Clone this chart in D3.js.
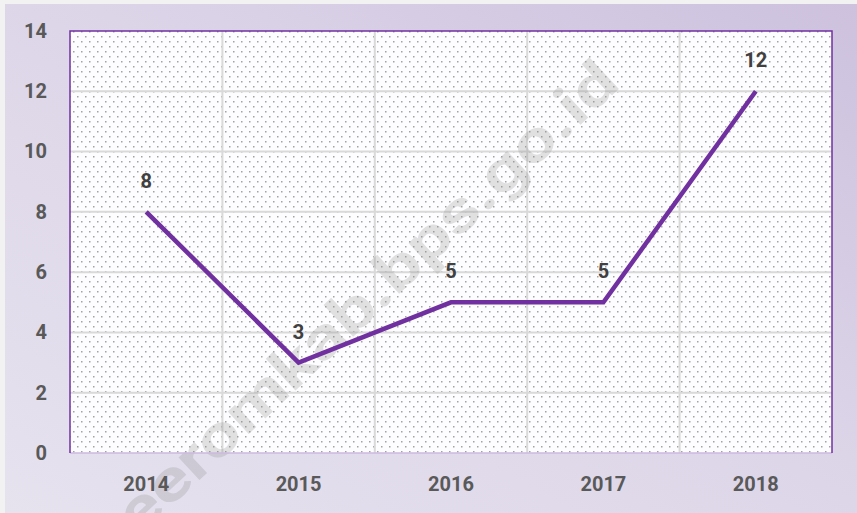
<!DOCTYPE html>
<html>
<head>
<meta charset="utf-8">
<script src="https://d3js.org/d3.v7.min.js"></script>
<style>
body { margin: 0; background: #fff; }
text { font-family: Roboto, "Liberation Sans", sans-serif; font-weight: bold; }
</style>
</head>
<body>
<svg width="857" height="513"></svg>
<script>
// data
const years = ["2014", "2015", "2016", "2017", "2018"]
const values = [8, 3, 5, 5, 12]
const yTicks = [0, 2, 4, 6, 8, 10, 12, 14]

const svg = d3.select("svg")
const defs = svg.append("defs")

// panel background gradient
const grad = defs.append("linearGradient")
    .attr("id", "bg")
    .attr("x1", "0%").attr("y1", "100%")
    .attr("x2", "100%").attr("y2", "0%")
grad.append("stop").attr("offset", "0%").attr("stop-color", "#e6e2ee")
grad.append("stop").attr("offset", "55%").attr("stop-color", "#dcd5e8")
grad.append("stop").attr("offset", "100%").attr("stop-color", "#cdc1de")

// dotted fill for the plot area
const pat = defs.append("pattern")
    .attr("id", "dots")
    .attr("patternUnits", "userSpaceOnUse")
    .attr("width", 8).attr("height", 10)
pat.append("rect").attr("width", 8).attr("height", 10).attr("fill", "#fdfcfe")
pat.append("rect").attr("x", 1).attr("y", 1).attr("width", 1.5).attr("height", 1.5).attr("fill", "#a3a3a3")
pat.append("rect").attr("x", 5).attr("y", 6).attr("width", 1.5).attr("height", 1.5).attr("fill", "#a3a3a3")

svg.append("rect").attr("width", 857).attr("height", 513).attr("fill", "#f2f2f2")
svg.append("rect")
    .attr("x", 5).attr("y", 4)
    .attr("width", 852).attr("height", 509)
    .attr("fill", "url(#bg)")

const plotL = 70, plotR = 832, plotT = 31, plotB = 453

const x = d3.scaleBand().domain(years).range([plotL, plotR])
const y = d3.scaleLinear().domain([0, 14]).range([plotB, plotT])

svg.append("rect")
    .attr("x", plotL).attr("y", plotT)
    .attr("width", plotR - plotL).attr("height", plotB - plotT)
    .attr("fill", "url(#dots)")

// gridlines
svg.append("g")
    .selectAll("line")
    .data(yTicks.slice(1, -1))
    .join("line")
    .attr("x1", plotL).attr("x2", plotR)
    .attr("y1", d => y(d)).attr("y2", d => y(d))
    .attr("stroke", "#d9d9d9").attr("stroke-width", 2)

svg.append("g")
    .selectAll("line")
    .data(years.slice(1))
    .join("line")
    .attr("x1", d => x(d)).attr("x2", d => x(d))
    .attr("y1", plotT).attr("y2", plotB)
    .attr("stroke", "#d9d9d9").attr("stroke-width", 2)

// watermark
svg.append("text")
    .attr("transform", "translate(352,310) rotate(-43)")
    .attr("text-anchor", "middle")
    .attr("dy", "0.35em")
    .attr("font-size", 58)
    .attr("textLength", 700)
    .attr("lengthAdjust", "spacingAndGlyphs")
    .attr("fill", "#8a8a8a")
    .attr("fill-opacity", 0.25)
    .text("keeromkab.bps.go.id")

// plot frame
svg.append("line")
    .attr("x1", plotL).attr("x2", plotR).attr("y1", plotB).attr("y2", plotB)
    .attr("stroke", "#cdb8e0").attr("stroke-width", 1.5)
svg.append("path")
    .attr("d", `M${plotL},${plotB}V${plotT}H${plotR}V${plotB}`)
    .attr("fill", "none")
    .attr("stroke", "#7030a0").attr("stroke-width", 1.5)

// y axis
const yAxis = svg.append("g")
    .attr("transform", `translate(${plotL},0)`)
    .call(d3.axisLeft(y).tickValues(yTicks).tickSize(0).tickPadding(23))
yAxis.select(".domain").remove()
yAxis.selectAll("text")
    .attr("font-size", 20)
    .attr("font-family", "Roboto, sans-serif")
    .attr("font-weight", "bold")
    .attr("fill", "#595959")

// x axis
const xAxis = svg.append("g")
    .attr("transform", `translate(0,${plotB})`)
    .call(d3.axisBottom(x).tickSize(0).tickPadding(24))
xAxis.select(".domain").remove()
xAxis.selectAll("text")
    .attr("font-size", 20)
    .attr("font-family", "Roboto, sans-serif")
    .attr("font-weight", "bold")
    .attr("fill", "#595959")

// line
const line = d3.line()
    .x((d, i) => x(years[i]) + x.bandwidth() / 2)
    .y(d => y(d))

svg.append("path")
    .datum(values)
    .attr("d", line)
    .attr("fill", "none")
    .attr("stroke", "#7030a0")
    .attr("stroke-width", 4.5)

svg.append("g")
    .selectAll("text")
    .data(values)
    .join("text")
    .attr("x", (d, i) => x(years[i]) + x.bandwidth() / 2)
    .attr("y", d => y(d) - 24)
    .attr("text-anchor", "middle")
    .attr("font-size", 20)
    .attr("fill", "#404040")
    .text(d => d)
</script>
</body>
</html>
